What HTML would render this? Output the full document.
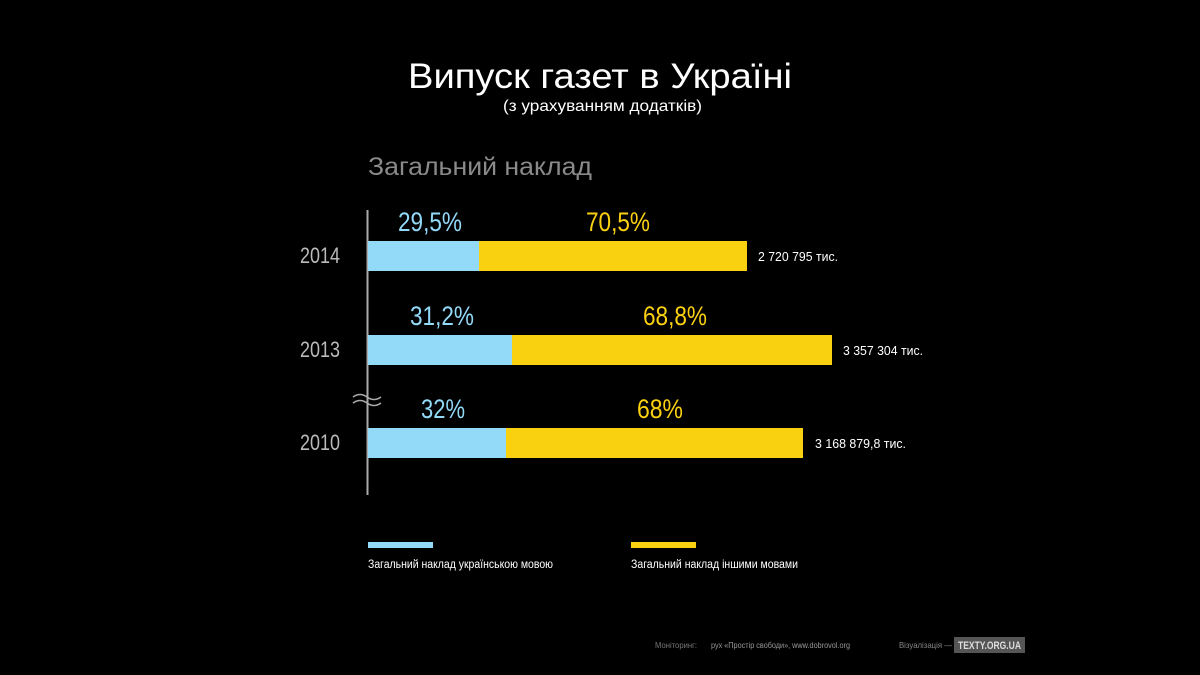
<!DOCTYPE html>
<html><head><meta charset="utf-8"><style>
html,body{margin:0;padding:0;background:#000;width:1200px;height:675px;overflow:hidden}
svg{display:block}
text{font-family:"Liberation Sans",sans-serif}
</style></head><body>
<svg width="1200" height="675" viewBox="0 0 1200 675">
<rect width="1200" height="675" fill="#000"/>
<text x="408" y="88" fill="#fff" font-size="35" textLength="384" lengthAdjust="spacingAndGlyphs">Випуск газет в Україні</text>
<text x="503" y="111" fill="#fff" font-size="16" textLength="199" lengthAdjust="spacingAndGlyphs">(з урахуванням додатків)</text>
<text x="368" y="175" fill="#8a8a8a" font-size="25" textLength="224" lengthAdjust="spacingAndGlyphs">Загальний наклад</text>
<line x1="367.5" y1="210" x2="367.5" y2="495" stroke="#aaa" stroke-width="2"/>
<path d="M353 397 q7 -5 14 0 t14 0 M353 403 q7 -5 14 0 t14 0" stroke="#aaa" stroke-width="1.5" fill="none"/>
<g font-size="22" fill="#bbb">
<text x="300" y="263" textLength="40" lengthAdjust="spacingAndGlyphs">2014</text>
<text x="300" y="357" textLength="40" lengthAdjust="spacingAndGlyphs">2013</text>
<text x="300" y="450" textLength="40" lengthAdjust="spacingAndGlyphs">2010</text>
</g>
<rect x="368" y="241" width="111" height="30" fill="#93d9f8"/>
<rect x="479" y="241" width="268" height="30" fill="#fad110"/>
<rect x="368" y="335" width="144" height="30" fill="#93d9f8"/>
<rect x="512" y="335" width="320" height="30" fill="#fad110"/>
<rect x="368" y="428" width="138" height="30" fill="#93d9f8"/>
<rect x="506" y="428" width="297" height="30" fill="#fad110"/>
<g font-size="27">
<text x="398" y="231" fill="#93d9f8" textLength="64" lengthAdjust="spacingAndGlyphs">29,5%</text>
<text x="586" y="231" fill="#fad110" textLength="64" lengthAdjust="spacingAndGlyphs">70,5%</text>
<text x="410" y="325" fill="#93d9f8" textLength="64" lengthAdjust="spacingAndGlyphs">31,2%</text>
<text x="643" y="325" fill="#fad110" textLength="64" lengthAdjust="spacingAndGlyphs">68,8%</text>
<text x="421" y="418" fill="#93d9f8" textLength="44" lengthAdjust="spacingAndGlyphs">32%</text>
<text x="637" y="418" fill="#fad110" textLength="46" lengthAdjust="spacingAndGlyphs">68%</text>
</g>
<g font-size="13" fill="#fff">
<text x="758" y="261" textLength="80" lengthAdjust="spacingAndGlyphs">2 720 795 тис.</text>
<text x="843" y="355" textLength="80" lengthAdjust="spacingAndGlyphs">3 357 304 тис.</text>
<text x="815" y="448" textLength="91" lengthAdjust="spacingAndGlyphs">3 168 879,8 тис.</text>
</g>
<rect x="368" y="542" width="65" height="6" fill="#93d9f8"/>
<rect x="631" y="542" width="65" height="6" fill="#fad110"/>
<g font-size="11.5" fill="#fff">
<text x="368" y="568" textLength="185" lengthAdjust="spacingAndGlyphs">Загальний наклад  українською мовою</text>
<text x="631" y="568" textLength="167" lengthAdjust="spacingAndGlyphs">Загальний наклад іншими мовами</text>
</g>
<g font-size="8.5">
<text x="655" y="648" fill="#777" textLength="42" lengthAdjust="spacingAndGlyphs">Моніторинг:</text>
<text x="711" y="648" fill="#999" textLength="139" lengthAdjust="spacingAndGlyphs">рух «Простір свободи», www.dobrovol.org</text>
<text x="899" y="648" fill="#888" textLength="53" lengthAdjust="spacingAndGlyphs">Візуалізація —</text>
</g>
<rect x="954" y="637" width="71" height="16" fill="#555"/>
<text x="989.5" y="649" fill="#ddd" font-size="11" font-weight="bold" text-anchor="middle" textLength="63" lengthAdjust="spacingAndGlyphs">TEXTY.ORG.UA</text>
</svg>
</body></html>
